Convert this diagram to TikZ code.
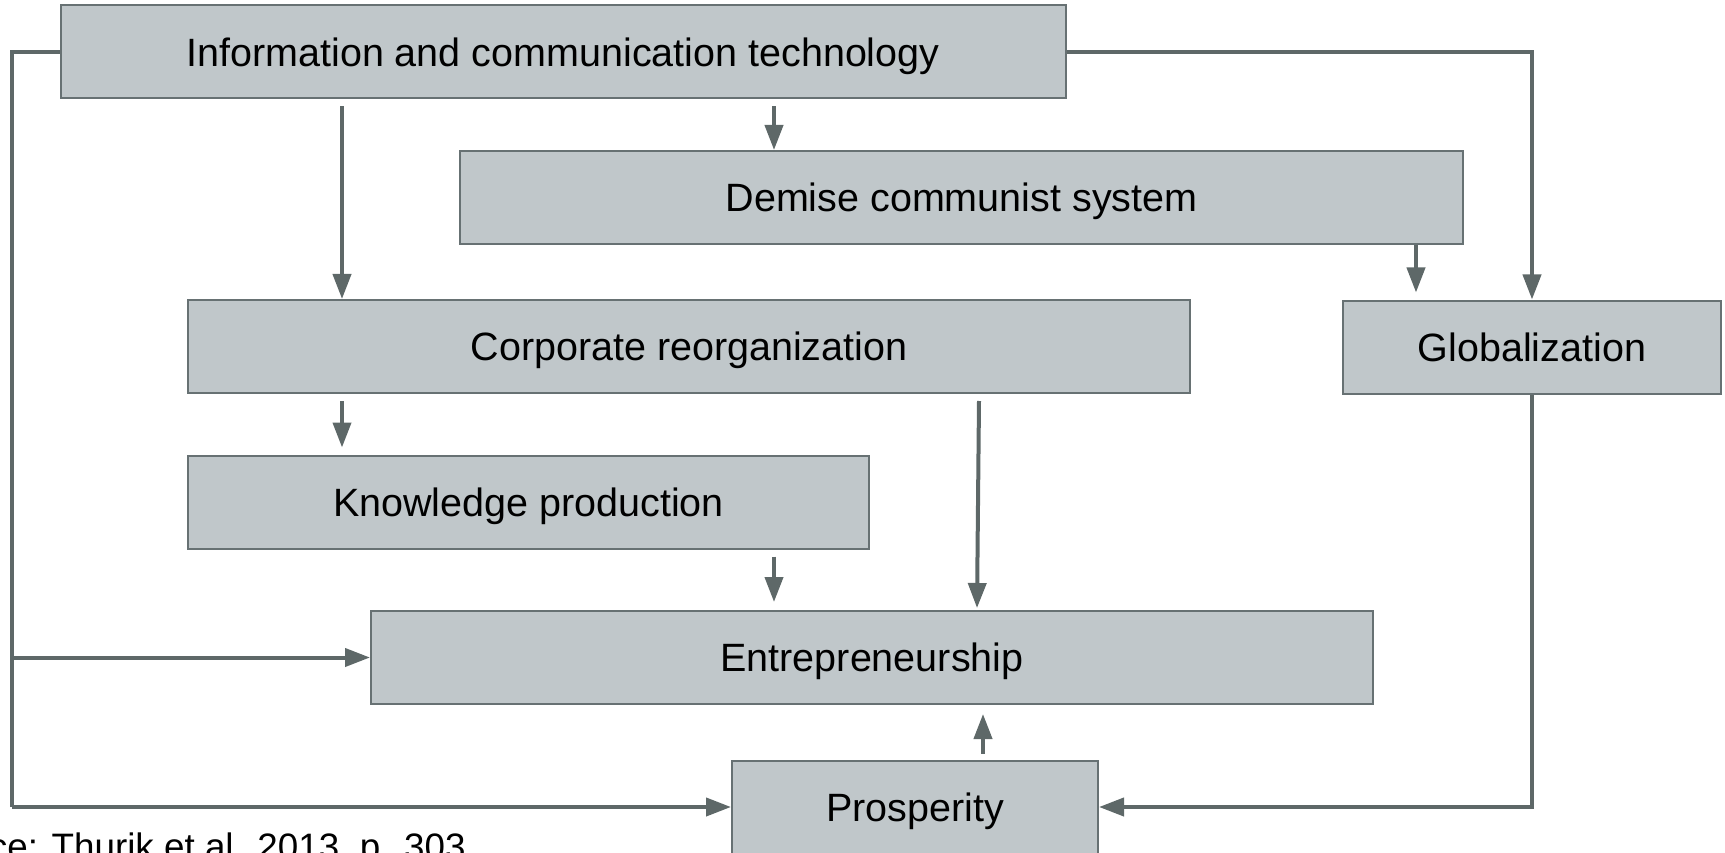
\documentclass[tikz,border=0pt]{standalone}
\usepackage{fontspec}
\setmainfont{Liberation Sans}
\usetikzlibrary{arrows.meta}

\definecolor{boxfill}{RGB}{192,199,202}
\definecolor{boxline}{RGB}{103,113,115}
\definecolor{linkcol}{RGB}{94,104,104}

\tikzset{
  factorbox/.style={draw=boxline, fill=boxfill, line width=2pt, rectangle,
    inner sep=0pt, minimum height=93pt, text height=28.3pt, text depth=0pt,
    font=\fontsize{39.5pt}{44pt}\selectfont},
  link/.style={draw=linkcol, line width=4pt,
    -{Triangle[length=25pt,width=18pt]}},
  plainlink/.style={draw=linkcol, line width=4pt}
}

\begin{document}
\begin{tikzpicture}[x=1pt,y=-1pt]
\useasboundingbox (0,0) rectangle (1725,853);
\clip (0,0) rectangle (1725,853);

% factor boxes
\node[factorbox, minimum width=1005pt] (ict)    at (563,52)      {Information and communication technology};
\node[factorbox, minimum width=1003pt] (demise) at (961.5,197.5) {Demise communist system};
\node[factorbox, minimum width=1002pt] (corp)   at (689,346.5)   {Corporate reorganization};
\node[factorbox, minimum width=378pt]  (glob)   at (1532,347)    {Globalization};
\node[factorbox, minimum width=681pt]  (know)   at (528.5,502)   {Knowledge production};
\node[factorbox, minimum width=1002pt] (entr)   at (872,657.5)   {Entrepreneurship};
\node[factorbox, minimum width=366pt]  (prosp)  at (915,807)     {Prosperity};

% columns used by the vertical arrows
\coordinate (rail)  at (12,0);
\coordinate (colA)  at (342,0);
\coordinate (colB)  at (774,0);
\coordinate (colC)  at (1416,0);
\coordinate (colD)  at (979,0);
\coordinate (colDe) at (977,0);
\coordinate (colE)  at (983,0);

% left rail from ICT to entrepreneurship and prosperity
\draw[plainlink] (ict.west) -- (rail |- ict.west) -- (rail |- prosp.west);
\draw[link] (rail |- prosp.west) -- (prosp.west);
\draw[link] (rail |- entr.west) -- (entr.west);

% right route from ICT to globalization
\draw[link] (ict.east) -| (glob.north);

% globalization to prosperity
\draw[link] (glob.south) |- (prosp.east);

% downward arrows
\draw[link] ([yshift=-7pt]colA |- ict.south) -- (colA |- corp.north);
\draw[link] ([yshift=-7pt]colB |- ict.south) -- (colB |- demise.north);
\draw[link] (colC |- demise.south) -- ([yshift=7pt]colC |- glob.north);
\draw[link] ([yshift=-7pt]colA |- corp.south) -- ([yshift=7pt]colA |- know.north);
\draw[link] ([yshift=-7pt]colB |- know.south) -- ([yshift=8pt]colB |- entr.north);
\draw[link] ([yshift=-7pt]colD |- corp.south) -- ([yshift=2pt]colDe |- entr.north);

% prosperity up to entrepreneurship
\draw[link] ([yshift=6pt]colE |- prosp.north) -- ([yshift=-9pt]colE |- entr.south);

% source line
\node[anchor=base west, inner sep=0pt, font=\fontsize{36.8pt}{42pt}\selectfont] (src) at (-89,859.5) {Source: Thurik et al. 2013, p. 303};
\end{tikzpicture}
\end{document}
